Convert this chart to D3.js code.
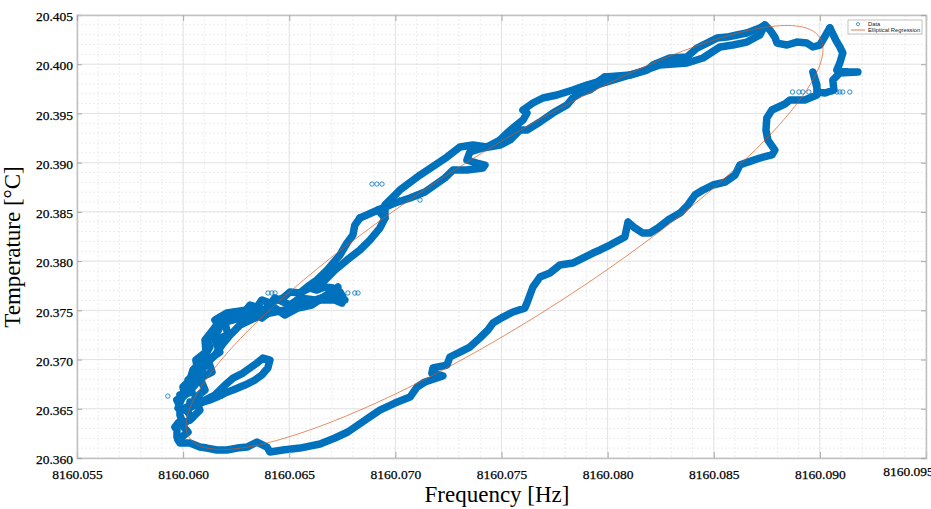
<!DOCTYPE html>
<html>
<head>
<meta charset="utf-8">
<script src="https://cdn.jsdelivr.net/npm/d3@7"></script>
<style>
body { margin: 0; background: #fff; }
</style>
</head>
<body>
<div id="chart"></div>
<script>
// tick values
var xTicks = [8160.055, 8160.060, 8160.065, 8160.070, 8160.075, 8160.080, 8160.085, 8160.090, 8160.095];
var yTicks = [20.360, 20.365, 20.370, 20.375, 20.380, 20.385, 20.390, 20.395, 20.400, 20.405];

// measured trace, [frequency Hz, temperature C], read off the picture in pieces
// right side coming down and the lower return arc to the bottom left
var descentTrace = [
  [8160.09047, 20.40368], [8160.09075, 20.40246], [8160.09094, 20.40175], [8160.09108, 20.40114],
  [8160.09094, 20.40012], [8160.09080, 20.39941], [8160.09132, 20.39921], [8160.09179, 20.39921],
  [8160.09094, 20.39911], [8160.09061, 20.39839], [8160.09066, 20.39738], [8160.09024, 20.39707],
  [8160.08991, 20.39718], [8160.08977, 20.39839], [8160.08967, 20.39921], [8160.08986, 20.39789],
  [8160.08986, 20.39687], [8160.08929, 20.39636], [8160.08859, 20.39636], [8160.08835, 20.39596],
  [8160.08774, 20.39535], [8160.08750, 20.39453], [8160.08746, 20.39332], [8160.08755, 20.39230],
  [8160.08788, 20.39128], [8160.08774, 20.39078], [8160.08717, 20.39047], [8160.08661, 20.39006],
  [8160.08623, 20.38976], [8160.08600, 20.38874], [8160.08553, 20.38803], [8160.08496, 20.38773],
  [8160.08449, 20.38722], [8160.08411, 20.38671], [8160.08378, 20.38570], [8160.08341, 20.38488],
  [8160.08284, 20.38417], [8160.08237, 20.38336], [8160.08199, 20.38285], [8160.08166, 20.38285],
  [8160.08129, 20.38336], [8160.08096, 20.38397], [8160.08081, 20.38245], [8160.08011, 20.38163],
  [8160.07964, 20.38113], [8160.07931, 20.38082], [8160.07836, 20.37980], [8160.07775, 20.37960],
  [8160.07728, 20.37879], [8160.07681, 20.37838], [8160.07648, 20.37737], [8160.07620, 20.37574],
  [8160.07610, 20.37523], [8160.07554, 20.37483], [8160.07507, 20.37432], [8160.07460, 20.37371],
  [8160.07436, 20.37300], [8160.07398, 20.37219], [8160.07351, 20.37127], [8160.07304, 20.37076],
  [8160.07257, 20.37026], [8160.07243, 20.36944], [8160.07177, 20.36914], [8160.07172, 20.36863],
  [8160.07224, 20.36833], [8160.07139, 20.36772], [8160.07102, 20.36721], [8160.07069, 20.36619],
  [8160.06998, 20.36558], [8160.06927, 20.36487], [8160.06871, 20.36406], [8160.06824, 20.36335],
  [8160.06776, 20.36264], [8160.06715, 20.36203], [8160.06645, 20.36142], [8160.06550, 20.36101],
  [8160.06470, 20.36081], [8160.06409, 20.36061], [8160.06395, 20.36111], [8160.06348, 20.36162],
  [8160.06301, 20.36111], [8160.06254, 20.36101], [8160.06206, 20.36081], [8160.06159, 20.36081],
  [8160.06112, 20.36101], [8160.06079, 20.36111], [8160.06032, 20.36152], [8160.05985, 20.36152],
  [8160.05971, 20.36213], [8160.05971, 20.36284], [8160.05961, 20.36315], [8160.05976, 20.36355],
  [8160.05994, 20.36386], [8160.05985, 20.36436], [8160.05985, 20.36518], [8160.05971, 20.36589]
];

// the dense tangle at the low-left end
var clusterTrace = [
  [8160.05971, 20.36589], [8160.06009, 20.36640], [8160.05999, 20.36721], [8160.06032, 20.36792],
  [8160.06046, 20.36894], [8160.06093, 20.36995], [8160.06126, 20.37127], [8160.06112, 20.37198],
  [8160.06159, 20.37269], [8160.06173, 20.37330], [8160.06150, 20.37401], [8160.06206, 20.37473],
  [8160.06301, 20.37503], [8160.06348, 20.37534], [8160.06371, 20.37605], [8160.06409, 20.37574],
  [8160.06470, 20.37625], [8160.06503, 20.37686], [8160.06550, 20.37676], [8160.06597, 20.37727],
  [8160.06630, 20.37706], [8160.06668, 20.37737], [8160.06706, 20.37727], [8160.06739, 20.37686],
  [8160.06753, 20.37635], [8160.06748, 20.37574], [8160.06715, 20.37605], [8160.06645, 20.37605],
  [8160.06550, 20.37554], [8160.06480, 20.37503], [8160.06409, 20.37473], [8160.06338, 20.37422],
  [8160.06268, 20.37351], [8160.06221, 20.37249], [8160.06183, 20.37148], [8160.06150, 20.37046],
  [8160.06103, 20.36944], [8160.06079, 20.36843], [8160.06056, 20.36741], [8160.06023, 20.36670],
  [8160.05994, 20.36609], [8160.05976, 20.36508], [8160.06009, 20.36487], [8160.06056, 20.36538],
  [8160.06103, 20.36589], [8160.06150, 20.36640], [8160.06197, 20.36741], [8160.06235, 20.36812],
  [8160.06282, 20.36863], [8160.06315, 20.36914], [8160.06348, 20.36965], [8160.06376, 20.37015],
  [8160.06409, 20.36995], [8160.06399, 20.36914], [8160.06371, 20.36843], [8160.06338, 20.36792],
  [8160.06291, 20.36741], [8160.06235, 20.36690], [8160.06197, 20.36660], [8160.06159, 20.36619],
  [8160.06126, 20.36589], [8160.06079, 20.36558], [8160.06032, 20.36569]
];
var clusterZigzagA = [
  [8160.06032, 20.36386], [8160.06079, 20.36487], [8160.06056, 20.36609], [8160.06103, 20.36690],
  [8160.06079, 20.36812], [8160.06136, 20.36873], [8160.06117, 20.36995], [8160.06173, 20.37076],
  [8160.06150, 20.37198], [8160.06211, 20.37249], [8160.06197, 20.37381], [8160.06268, 20.37422],
  [8160.06315, 20.37554], [8160.06385, 20.37503], [8160.06433, 20.37625], [8160.06503, 20.37554],
  [8160.06550, 20.37625], [8160.06621, 20.37605], [8160.06692, 20.37655], [8160.06762, 20.37605]
];
var clusterZigzagB = [
  [8160.05985, 20.36640], [8160.06042, 20.36670], [8160.06023, 20.36792], [8160.06070, 20.36873],
  [8160.06060, 20.36995], [8160.06108, 20.37076], [8160.06103, 20.37198], [8160.06140, 20.37300],
  [8160.06183, 20.37422], [8160.06244, 20.37483], [8160.06291, 20.37422], [8160.06338, 20.37483],
  [8160.06371, 20.37422], [8160.06433, 20.37523], [8160.06480, 20.37452], [8160.06541, 20.37523],
  [8160.06607, 20.37554], [8160.06668, 20.37645], [8160.06729, 20.37737]
];
var clusterBase = [
  [8160.05976, 20.36183], [8160.06023, 20.36264], [8160.05994, 20.36335], [8160.06042, 20.36406],
  [8160.06009, 20.36508], [8160.06079, 20.36589]
];

// two strands leaving the tangle upwards
var riseStrandA = [
  [8160.06550, 20.37676], [8160.06597, 20.37757], [8160.06630, 20.37808], [8160.06678, 20.37909],
  [8160.06739, 20.38062], [8160.06772, 20.38184], [8160.06800, 20.38265], [8160.06809, 20.38366],
  [8160.06833, 20.38438]
];
var riseStrandB = [
  [8160.06597, 20.37727], [8160.06645, 20.37757], [8160.06715, 20.37909], [8160.06772, 20.38011],
  [8160.06833, 20.38113], [8160.06880, 20.38214], [8160.06927, 20.38336], [8160.06951, 20.38438],
  [8160.06918, 20.38519]
];

// middle of the upper arc, lower and upper strand
var riseLower = [
  [8160.06833, 20.38438], [8160.06918, 20.38519], [8160.06998, 20.38590], [8160.07069, 20.38641],
  [8160.07139, 20.38702], [8160.07186, 20.38773], [8160.07233, 20.38844], [8160.07271, 20.38925],
  [8160.07337, 20.38925], [8160.07412, 20.38946], [8160.07422, 20.38976], [8160.07384, 20.38996],
  [8160.07337, 20.39027], [8160.07351, 20.39108], [8160.07412, 20.39149], [8160.07493, 20.39179],
  [8160.07540, 20.39230], [8160.07587, 20.39332], [8160.07620, 20.39332], [8160.07681, 20.39413],
  [8160.07742, 20.39504], [8160.07808, 20.39585], [8160.07836, 20.39657], [8160.07869, 20.39707],
  [8160.07917, 20.39738], [8160.07950, 20.39789]
];
var riseUpper = [
  [8160.06951, 20.38438], [8160.06951, 20.38570], [8160.07021, 20.38722], [8160.07116, 20.38874],
  [8160.07243, 20.39057], [8160.07304, 20.39159], [8160.07365, 20.39179], [8160.07431, 20.39159],
  [8160.07493, 20.39230], [8160.07526, 20.39301], [8160.07554, 20.39352], [8160.07601, 20.39433],
  [8160.07620, 20.39504], [8160.07601, 20.39535], [8160.07648, 20.39606], [8160.07695, 20.39657],
  [8160.07761, 20.39687], [8160.07836, 20.39738], [8160.07902, 20.39789], [8160.07950, 20.39819],
  [8160.07987, 20.39870]
];

// top of the loop
var topLower = [
  [8160.07950, 20.39789], [8160.08058, 20.39860], [8160.08152, 20.39921], [8160.08246, 20.39992],
  [8160.08374, 20.40012], [8160.08449, 20.40063], [8160.08529, 20.40175], [8160.08590, 20.40195],
  [8160.08656, 20.40225], [8160.08717, 20.40297], [8160.08741, 20.40398]
];
var topUpper = [
  [8160.07987, 20.39870], [8160.08105, 20.39890], [8160.08185, 20.39941], [8160.08213, 20.39992],
  [8160.08293, 20.40063], [8160.08374, 20.40073], [8160.08421, 20.40164], [8160.08468, 20.40215],
  [8160.08515, 20.40266], [8160.08562, 20.40276], [8160.08609, 20.40297], [8160.08656, 20.40317],
  [8160.08717, 20.40368], [8160.08741, 20.40398], [8160.08765, 20.40347], [8160.08788, 20.40276],
  [8160.08798, 20.40215], [8160.08845, 20.40195], [8160.08892, 20.40225], [8160.08939, 20.40215],
  [8160.08967, 20.40175], [8160.09000, 20.40195], [8160.09014, 20.40246], [8160.09047, 20.40368]
];

// stray single samples
var outlierFreq = [
  8160.08871, 8160.08901, 8160.08920, 8160.08948, 8160.09024, 8160.09038, 8160.09057, 8160.09080,
  8160.09094, 8160.09108, 8160.09141,
  8160.06400, 8160.06418, 8160.06433, 8160.06776, 8160.06809, 8160.06824,
  8160.05928, 8160.06183,
  8160.06890, 8160.06913, 8160.06937, 8160.07012, 8160.07045, 8160.07116
];
var outlierTemp = [
  20.39718, 20.39718, 20.39718, 20.39718, 20.39718, 20.39718, 20.39718, 20.39718,
  20.39718, 20.39718, 20.39718,
  20.37676, 20.37676, 20.37676, 20.37676, 20.37676, 20.37676,
  20.36629, 20.36629,
  20.38783, 20.38783, 20.38783, 20.38631, 20.38631, 20.38620
];

// elliptical regression: centre and two conjugate half-axes
var ellipseCenter = [8160.075141, 20.382399];
var ellipseAxisU = [0.015005, 0.019097];
var ellipseAxisV = [0.0, -0.009955];

var traces = [descentTrace, clusterTrace, clusterZigzagA, clusterZigzagB, clusterBase,
  riseStrandA, riseStrandB, riseLower, riseUpper, topLower, topUpper];

//svg area
var svgWidth = 931;
var svgHeight = 509;

var margin = { top: 15, right: 5, bottom: 51, left: 77 };
var chartWidth = svgWidth - margin.left - margin.right;
var chartHeight = svgHeight - margin.top - margin.bottom;

var blue = "#0072BD";
var orange = "#D95319";
var axisColor = "#c2c2c2";
var serif = "'Liberation Serif', 'Times New Roman', serif";

var svg = d3.select("#chart")
  .append("svg")
  .attr("width", svgWidth)
  .attr("height", svgHeight);

var chartGroup = svg.append("g")
  .attr("transform", `translate(${margin.left}, ${margin.top})`);

//scales
var xScale = d3.scaleLinear()
  .domain([xTicks[0], xTicks[xTicks.length - 1]])
  .range([0, chartWidth]);

var yScale = d3.scaleLinear()
  .domain([yTicks[0], yTicks[yTicks.length - 1]])
  .range([chartHeight, 0]);

//minor grid, 0.001 steps
chartGroup.append("g")
  .selectAll("line")
  .data(xScale.ticks(40))
  .enter()
  .append("line")
  .attr("x1", d => xScale(d)).attr("x2", d => xScale(d))
  .attr("y1", 0).attr("y2", chartHeight)
  .attr("stroke", "#ececec")
  .attr("stroke-dasharray", "2,2");

chartGroup.append("g")
  .selectAll("line")
  .data(yScale.ticks(45))
  .enter()
  .append("line")
  .attr("y1", d => yScale(d)).attr("y2", d => yScale(d))
  .attr("x1", 0).attr("x2", chartWidth)
  .attr("stroke", "#ececec")
  .attr("stroke-dasharray", "2,2");

//major grid
chartGroup.append("g")
  .selectAll("line")
  .data(xTicks)
  .enter()
  .append("line")
  .attr("x1", d => xScale(d)).attr("x2", d => xScale(d))
  .attr("y1", 0).attr("y2", chartHeight)
  .attr("stroke", "#e3e3e3");

chartGroup.append("g")
  .selectAll("line")
  .data(yTicks)
  .enter()
  .append("line")
  .attr("y1", d => yScale(d)).attr("y2", d => yScale(d))
  .attr("x1", 0).attr("x2", chartWidth)
  .attr("stroke", "#e3e3e3");

//clip the marks to the axes box
svg.append("defs").append("clipPath")
  .attr("id", "plotClip")
  .append("rect")
  .attr("width", chartWidth)
  .attr("height", chartHeight);

var plotGroup = chartGroup.append("g").attr("clip-path", "url(#plotClip)");

//data trace - thousands of overlapping markers, drawn as a thick band
var line = d3.line()
  .x(d => xScale(d[0]))
  .y(d => yScale(d[1]));

plotGroup.selectAll("path.trace")
  .data(traces)
  .enter()
  .append("path")
  .attr("class", "trace")
  .attr("d", line)
  .attr("fill", "none")
  .attr("stroke", blue)
  .attr("stroke-width", 7.5)
  .attr("stroke-linejoin", "round")
  .attr("stroke-linecap", "round");

plotGroup.selectAll("circle.outlier")
  .data(outlierFreq)
  .enter()
  .append("circle")
  .attr("class", "outlier")
  .attr("cx", d => xScale(d))
  .attr("cy", (d, i) => yScale(outlierTemp[i]))
  .attr("r", 2.2)
  .attr("fill", "none")
  .attr("stroke", blue)
  .attr("stroke-width", 0.8);

//regression ellipse
var ellipsePoints = d3.range(0, 361, 2).map(function(deg) {
  var t = deg * Math.PI / 180;
  return [
    ellipseCenter[0] + ellipseAxisU[0] * Math.cos(t) + ellipseAxisV[0] * Math.sin(t),
    ellipseCenter[1] + ellipseAxisU[1] * Math.cos(t) + ellipseAxisV[1] * Math.sin(t)
  ];
});

plotGroup.append("path")
  .datum(ellipsePoints)
  .attr("d", line)
  .attr("fill", "none")
  .attr("stroke", orange)
  .attr("stroke-opacity", 0.75)
  .attr("stroke-width", 0.9);

//axes, ticks point inwards like matlab
var fmt = d3.format(".3f");

var bottomAxis = d3.axisBottom(xScale).tickValues(xTicks).tickFormat(fmt).tickSize(-6).tickPadding(11);
var leftAxis = d3.axisLeft(yScale).tickValues(yTicks).tickFormat(fmt).tickSize(-5).tickPadding(4);
var topAxis = d3.axisTop(xScale).tickValues(xTicks).tickFormat("").tickSize(-6);
var rightAxis = d3.axisRight(yScale).tickValues(yTicks).tickFormat("").tickSize(-5);

var xAxisG = chartGroup.append("g")
  .attr("transform", `translate(0, ${chartHeight})`)
  .call(bottomAxis);

var yAxisG = chartGroup.append("g").call(leftAxis);
var topG = chartGroup.append("g").call(topAxis);
var rightG = chartGroup.append("g").attr("transform", `translate(${chartWidth}, 0)`).call(rightAxis);

[xAxisG, yAxisG, topG, rightG].forEach(function(g) {
  g.attr("font-family", serif).attr("font-size", 13.5);
  g.select(".domain").attr("stroke", axisColor).attr("stroke-width", 1.5);
  g.selectAll(".tick line").attr("stroke", "#a8a8a8");
  g.selectAll(".tick text")
    .style("font-family", serif)
    .style("font-size", "13.5px")
    .attr("fill", "#000")
    .attr("stroke", "#000")
    .attr("stroke-width", 0.25);
});

yAxisG.selectAll(".tick text").attr("dy", "0.42em");

// last x label sits left of its tick and is cut by the page edge, as in the figure
xAxisG.selectAll(".tick text")
  .filter(d => d === xTicks[xTicks.length - 1])
  .attr("x", -18)
  .attr("dy", "0.55em");

//axis titles
chartGroup.append("text")
  .attr("transform", "rotate(-90)")
  .attr("x", 0 - 232)
  .attr("y", 0 - margin.left + 20)
  .attr("text-anchor", "middle")
  .style("font-family", serif)
  .style("font-size", "23px")
  .text("Temperature [°C]");

chartGroup.append("text")
  .attr("x", 420)
  .attr("y", chartHeight + 44)
  .attr("text-anchor", "middle")
  .style("font-family", serif)
  .style("font-size", "23px")
  .text("Frequency [Hz]");

//legend
var legend = svg.append("g")
  .style("font-family", "'Liberation Sans', Arial, sans-serif")
  .style("font-size", "5.8px");

legend.append("rect")
  .attr("x", 848).attr("y", 20)
  .attr("width", 74).attr("height", 14)
  .attr("fill", "#fff")
  .attr("stroke", "#9a9a9a")
  .attr("stroke-width", 0.6);

legend.append("circle")
  .attr("cx", 858).attr("cy", 24.2)
  .attr("r", 1.6)
  .attr("fill", "none")
  .attr("stroke", blue)
  .attr("stroke-width", 0.7);

legend.append("line")
  .attr("x1", 851).attr("x2", 865)
  .attr("y1", 30).attr("y2", 30)
  .attr("stroke", orange)
  .attr("stroke-opacity", 0.75);

legend.append("text")
  .attr("x", 868).attr("y", 26.2)
  .attr("fill", "#222")
  .text("Data");

legend.append("text")
  .attr("x", 868).attr("y", 32)
  .attr("fill", "#222")
  .text("Elliptical Regression");
</script>
</body>
</html>
